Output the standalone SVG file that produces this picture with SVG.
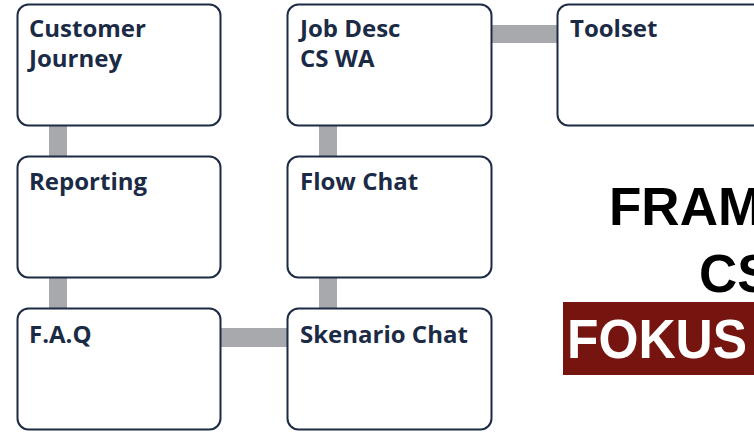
<svg xmlns="http://www.w3.org/2000/svg" width="754" height="432" viewBox="0 0 754 432">
<style>
.box{fill:#ffffff;stroke:#1d2b44;stroke-width:2}
.lbl{font-family:"Open Sans","Liberation Sans",sans-serif;font-weight:700;font-size:24px;fill:#1b2a45}
.con{fill:#a7a9ac}
.title{font-family:"Liberation Sans",Arial,sans-serif;font-weight:700;font-size:53px;fill:#000000}
</style>
<rect width="754" height="432" fill="#ffffff"/>
<g id="connectors">
<rect class="con" x="49" y="126" width="18" height="30"/>
<rect class="con" x="49" y="278" width="18" height="30"/>
<rect class="con" x="319" y="126" width="18" height="30"/>
<rect class="con" x="319" y="278" width="18" height="30"/>
<rect class="con" x="221" y="328" width="66" height="19"/>
<rect class="con" x="492" y="25" width="65" height="18"/>
</g>
<g id="customer-journey">
<rect class="box" x="17.5" y="4.5" width="203" height="121" rx="11"/>
<text class="lbl" x="29" y="37">Customer</text>
<text class="lbl" x="29" y="67">Journey</text>
</g>
<g id="job-desc">
<rect class="box" x="287.5" y="4.5" width="204" height="121" rx="11"/>
<text class="lbl" x="300" y="37">Job Desc</text>
<text class="lbl" x="300" y="67">CS WA</text>
</g>
<g id="toolset">
<rect class="box" x="557.5" y="4.5" width="230" height="121" rx="11"/>
<text class="lbl" x="570" y="37">Toolset</text>
</g>
<g id="reporting">
<rect class="box" x="17.5" y="156.5" width="203" height="121" rx="11"/>
<text class="lbl" x="29" y="190">Reporting</text>
</g>
<g id="flow-chat">
<rect class="box" x="287.5" y="156.5" width="204" height="121" rx="11"/>
<text class="lbl" x="300" y="190">Flow Chat</text>
</g>
<g id="faq">
<rect class="box" x="17.5" y="308.5" width="203" height="121" rx="11"/>
<text class="lbl" x="29" y="343">F.A.Q</text>
</g>
<g id="skenario-chat">
<rect class="box" x="287.5" y="308.5" width="204" height="121" rx="11"/>
<text class="lbl" x="300" y="343">Skenario Chat</text>
</g>
<g id="title">
<text class="title" x="609" y="225">FRAM</text>
<text class="title" x="699" y="292">CS</text>
<rect x="563" y="302" width="200" height="73" fill="#76150f"/>
<text class="title" x="567" y="358" textLength="180" lengthAdjust="spacingAndGlyphs" style="fill:#ffffff;font-size:55px">FOKUS</text>
</g>
</svg>
